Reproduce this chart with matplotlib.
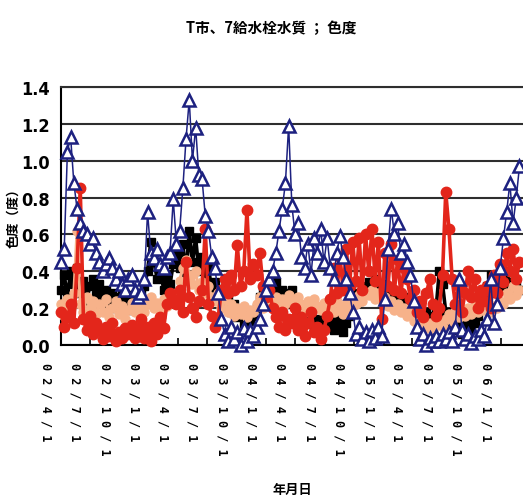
import numpy as np
import pandas as pd
import matplotlib
matplotlib.use("Agg")
import matplotlib.pyplot as plt
from matplotlib import font_manager as fm
from matplotlib.transforms import ScaledTranslation

# Colour readings (degrees) sampled every 10 days from 2002-04-01
start_date = "2002-04-01"
step_days = 10

blue = [
    0.45, 0.52, 1.05, 1.13, 0.88, 0.74, 0.66, 0.62, 0.60, 0.55, 0.58, 0.50,
    0.45, 0.40, 0.44, 0.47, 0.42, 0.36, 0.40, 0.33, 0.30, 0.36, 0.38, 0.30,
    0.26, 0.28, 0.36, 0.72, 0.50, 0.47, 0.52, 0.44, 0.42, 0.48, 0.50, 0.79,
    0.55, 0.62, 0.85, 1.12, 1.33, 1.00, 1.18, 0.92, 0.90, 0.70, 0.62, 0.48,
    0.42, 0.28, 0.14, 0.06, 0.02, 0.10, 0.03, 0.07, 0.00, 0.09, 0.02, 0.08,
    0.05, 0.10, 0.14, 0.22, 0.30, 0.36, 0.40, 0.50, 0.62, 0.74, 0.88, 1.19,
    0.76, 0.60, 0.66, 0.48, 0.42, 0.55, 0.38, 0.58, 0.50, 0.63, 0.45, 0.58,
    0.42, 0.36, 0.50, 0.59, 0.48, 0.36, 0.28, 0.18, 0.06, 0.10, 0.03, 0.07,
    0.02, 0.08, 0.04, 0.10, 0.05, 0.25, 0.52, 0.74, 0.60, 0.66, 0.50, 0.55,
    0.45, 0.38, 0.24, 0.10, 0.03, 0.06, 0.00, 0.04, 0.02, 0.05, 0.02, 0.06,
    0.03, 0.07, 0.02, 0.10, 0.36, 0.08, 0.03, 0.06, 0.01, 0.05, 0.03, 0.08,
    0.05, 0.14, 0.36, 0.12, 0.22, 0.42, 0.58, 0.72, 0.88, 0.66, 0.80, 0.97,
]

red = [
    0.18, 0.10, 0.15, 0.22, 0.12, 0.42, 0.85, 0.14, 0.08, 0.16, 0.06, 0.12,
    0.08, 0.03, 0.10, 0.05, 0.12, 0.02, 0.07, 0.04, 0.09, 0.06, 0.11, 0.04,
    0.08, 0.14, 0.04, 0.10, 0.02, 0.12, 0.06, 0.15, 0.09, 0.22, 0.28, 0.25,
    0.22, 0.30, 0.18, 0.45, 0.26, 0.20, 0.15, 0.24, 0.30, 0.63, 0.22, 0.16,
    0.10, 0.14, 0.30, 0.36, 0.28, 0.38, 0.30, 0.54, 0.32, 0.40, 0.73, 0.36,
    0.44, 0.38, 0.50, 0.32, 0.26, 0.30, 0.20, 0.15, 0.10, 0.18, 0.08, 0.14,
    0.12, 0.20, 0.08, 0.15, 0.05, 0.12, 0.18, 0.07, 0.10, 0.03, 0.08, 0.16,
    0.25, 0.42, 0.28, 0.48, 0.30, 0.52, 0.32, 0.56, 0.35, 0.58, 0.30, 0.60,
    0.40, 0.63, 0.35, 0.56, 0.14, 0.50, 0.32, 0.55, 0.30, 0.46, 0.28, 0.42,
    0.36, 0.25, 0.30, 0.18, 0.24, 0.15, 0.28, 0.36, 0.22, 0.16, 0.20, 0.38,
    0.83, 0.63, 0.36, 0.22, 0.32, 0.18, 0.28, 0.40, 0.26, 0.36, 0.20, 0.30,
    0.24, 0.32, 0.20, 0.38, 0.28, 0.44, 0.34, 0.50, 0.40, 0.52, 0.36, 0.45,
]

black = [
    0.30, 0.38, 0.26, 0.40, 0.33, 0.42, 0.28, 0.35, 0.24, 0.32, 0.36, 0.27,
    0.33, 0.25, 0.30, 0.22, 0.28, 0.20, 0.26, 0.30, 0.22, 0.27, 0.19, 0.25,
    0.22, 0.28, 0.32, 0.40, 0.56, 0.45, 0.36, 0.42, 0.30, 0.38, 0.33, 0.44,
    0.50, 0.42, 0.55, 0.38, 0.62, 0.45, 0.58, 0.40, 0.48, 0.35, 0.42, 0.30,
    0.34, 0.26, 0.30, 0.22, 0.25, 0.18, 0.22, 0.15, 0.18, 0.12, 0.16, 0.13,
    0.16, 0.20, 0.26, 0.30, 0.24, 0.32, 0.27, 0.34, 0.25, 0.30, 0.22, 0.28,
    0.30, 0.24, 0.20, 0.16, 0.19, 0.12, 0.15, 0.10, 0.14, 0.09, 0.12, 0.10,
    0.12, 0.08, 0.14, 0.10, 0.07, 0.12, 0.16, 0.22, 0.28, 0.24, 0.32, 0.28,
    0.34, 0.28, 0.36, 0.30, 0.26, 0.33, 0.28, 0.30, 0.24, 0.28, 0.22, 0.26,
    0.22, 0.18, 0.24, 0.16, 0.20, 0.14, 0.18, 0.12, 0.16, 0.20, 0.40, 0.33,
    0.18, 0.12, 0.15, 0.08, 0.12, 0.06, 0.10, 0.14, 0.08, 0.12, 0.16, 0.22,
    0.26, 0.32, 0.38, 0.28, 0.36, 0.42, 0.30, 0.40, 0.34, 0.28, 0.33, 0.30,
]

peach = [
    0.22, 0.16, 0.25, 0.20, 0.28, 0.62, 0.22, 0.18, 0.26, 0.20, 0.24, 0.17,
    0.22, 0.18, 0.25, 0.15, 0.20, 0.24, 0.17, 0.21, 0.14, 0.19, 0.23, 0.18,
    0.20, 0.24, 0.18, 0.22, 0.26, 0.20, 0.23, 0.19, 0.25, 0.21, 0.27, 0.24,
    0.28, 0.35, 0.42, 0.46, 0.38, 0.33, 0.40, 0.30, 0.34, 0.28, 0.32, 0.26,
    0.24, 0.28, 0.20, 0.25, 0.18, 0.22, 0.16, 0.20, 0.17, 0.21, 0.15, 0.19,
    0.18, 0.22, 0.26, 0.20, 0.24, 0.28, 0.22, 0.26, 0.20, 0.25, 0.22, 0.27,
    0.24, 0.20, 0.26, 0.22, 0.18, 0.24, 0.20, 0.25, 0.21, 0.19, 0.23, 0.20,
    0.22, 0.18, 0.24, 0.20, 0.17, 0.22, 0.19, 0.25, 0.22, 0.27, 0.24, 0.28,
    0.27, 0.30, 0.25, 0.28, 0.24, 0.26, 0.21, 0.24, 0.19, 0.22, 0.18, 0.20,
    0.16, 0.18, 0.13, 0.15, 0.10, 0.13, 0.09, 0.12, 0.08, 0.11, 0.13, 0.10,
    0.14, 0.17, 0.13, 0.18, 0.15, 0.19, 0.16, 0.20, 0.17, 0.21, 0.18, 0.20,
    0.19, 0.22, 0.18, 0.21, 0.20, 0.24, 0.22, 0.28, 0.25, 0.32, 0.27, 0.30,
]

y_ticks = [0.0, 0.2, 0.4, 0.6, 0.8, 1.0, 1.2, 1.4]
tick_start, tick_end = "2002-04-01", "2006-01-01"

title = "T市、7給水栓水質 ； 色度"
x_title = "年月日"
y_title = "色度（度）"

cjk = ["Noto Sans CJK JP", "DejaVu Sans"]


def narrow_bold_font():
    """Pick a condensed/narrow bold sans face if one is installed."""
    cands = []
    for f in fm.fontManager.ttflist:
        name = f.name.lower()
        narrowish = ("narrow" in name or "condensed" in name
                     or f.stretch in ("condensed", "semi-condensed",
                                      "extra-condensed", "ultra-condensed"))
        if narrowish and "mono" not in name and "serif" not in name:
            w = f.weight if isinstance(f.weight, int) else 400
            cands.append((abs(w - 700), f.fname))
    if cands:
        cands.sort()
        return fm.FontProperties(fname=cands[0][1], size=13)
    return fm.FontProperties(family="Liberation Sans", weight="bold", size=10.5)


W, H = 523, 502
fig = plt.figure(figsize=(W / 100, H / 100), dpi=100)
fig.patch.set_facecolor("white")
ax = fig.add_axes([61 / W, 1 - 346 / H, 462 / W, 258 / H])

dates = pd.date_range(start_date, periods=len(blue), freq=f"{step_days}D")

ax.plot(dates, black, color="black", lw=2.6, marker="s", ms=6,
        zorder=2, clip_on=False)
ax.plot(dates, peach, color="#f7b28a", lw=2.2, marker="o", ms=6.5,
        mec="#f7b28a", zorder=3, clip_on=False)
ax.plot(dates, red, color="#e3261b", lw=2.6, marker="o", ms=7.5,
        mec="#e3261b", zorder=4, clip_on=False)
ax.plot(dates, blue, color="#1d2180", lw=1.1, marker="^", ms=8.5,
        mfc="white", mec="#1d2180", mew=1.8, zorder=5, clip_on=False)

ax.set_xlim(pd.Timestamp(start_date), pd.Timestamp(start_date) + pd.Timedelta(days=1441))
ax.set_ylim(0, 1.4)

# y axis
ax.set_yticks(y_ticks)
ax.set_yticklabels([f"{v:.1f}" for v in y_ticks], fontproperties=narrow_bold_font())
ax.tick_params(axis="y", length=0, pad=8)
ax.yaxis.grid(True, color="#2e2e2e", lw=1.5)
ax.set_axisbelow(True)

# x axis: quarterly ticks, vertical labels
quarters = pd.date_range(tick_start, tick_end, freq="QS")
ax.set_xticks(quarters)
labels = [" ".join(f"{d.year % 100:02d}/{d.month}/{d.day}") for d in quarters]
ax.set_xticklabels(labels, rotation=-90, ha="center", va="top",
                   fontfamily="DejaVu Sans Mono", fontweight="bold",
                   fontsize=8.5)
ax.tick_params(axis="x", direction="in", length=5, width=1.2, pad=12)
shift = ScaledTranslation(-15 / 100, 0, fig.dpi_scale_trans)
for lab in ax.get_xticklabels():
    lab.set_transform(lab.get_transform() + shift)

for side in ("left", "bottom"):
    ax.spines[side].set_color("black")
    ax.spines[side].set_linewidth(1.5)
ax.spines["top"].set_color("#2e2e2e")
ax.spines["top"].set_linewidth(1.5)
ax.spines["right"].set_visible(False)

fig.text(271 / W, 1 - 28 / H, title, ha="center", va="center",
         fontfamily=cjk, fontweight="bold", fontsize=10.5)
fig.text(292 / W, 1 - 490 / H, x_title, ha="center", va="center",
         fontfamily=cjk, fontweight="bold", fontsize=9.5)
fig.text(13 / W, 1 - 215 / H, y_title, ha="center", va="center", rotation=90,
         fontfamily=cjk, fontweight="bold", fontsize=9.5)

fig.savefig("out.png", dpi=100, facecolor="white")
